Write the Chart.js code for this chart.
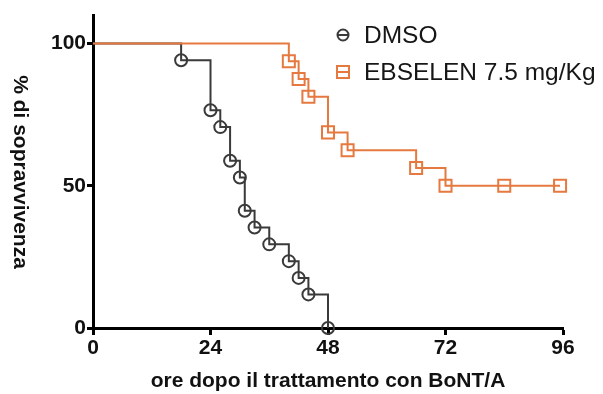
<!DOCTYPE html>
<html><head><meta charset="utf-8">
<script src="https://cdn.jsdelivr.net/npm/chart.js@4"></script>
<style>html,body{margin:0;padding:0;background:#fff;}#wrap{width:603px;height:394px;position:relative;}</style>
</head><body><div id="wrap"><canvas id="c" width="603" height="394"></canvas></div>
<script>
const dmsoHours = [0, 18, 24, 26, 28, 30, 31, 33, 36, 40, 42, 44, 48];
const dmsoSurvival = [100, 94.1, 76.5, 70.6, 58.8, 52.9, 41.2, 35.3, 29.4, 23.5, 17.6, 11.8, 0];
const ebsHours = [0, 40, 42, 44, 48, 52, 66, 72, 84, 95.4];
const ebsSurvival = [100, 93.75, 87.5, 81.25, 68.75, 62.5, 56.25, 50, 50, 50];
const xTicks = [0, 24, 48, 72, 96];
const yTicks = [0, 50, 100];
const seriesLabels = ['DMSO', 'EBSELEN 7.5 mg/Kg'];
const xTitle = 'ore dopo il trattamento con BoNT/A';
const yTitle = '% di sopravvivenza';

const FONT = '"Liberation Sans", Arial, Helvetica, sans-serif';
const DARK = '#3a3a3a';
const ORANGE = '#E5793F';

function pts(xs, ys) { return xs.map((x, i) => ({ x: x, y: ys[i] })); }
function radii(xs, r) { return xs.map((x, i) => i === 0 ? 0 : r); }

const legendPlugin = {
  id: 'customLegend',
  afterDraw(chart) {
    const ctx = chart.ctx;
    const rowsY = [35, 72];
    const iconX = 343;
    chart.data.datasets.forEach((ds, i) => {
      const y = rowsY[i];
      ctx.save();
      ctx.strokeStyle = ds.borderColor;
      ctx.lineWidth = 2;
      ctx.beginPath();
      if (ds.pointStyle === 'circle') {
        ctx.arc(iconX, y, 5.5, 0, Math.PI * 2);
      } else {
        ctx.rect(iconX - 6, y - 6, 12, 12);
      }
      ctx.stroke();
      ctx.beginPath();
      ctx.moveTo(iconX - 6, y);
      ctx.lineTo(iconX + 6, y);
      ctx.stroke();
      ctx.fillStyle = '#161616';
      ctx.font = '24.5px ' + FONT;
      ctx.textAlign = 'left';
      ctx.textBaseline = 'middle';
      ctx.fillText(ds.label, 364, y + 1);
      ctx.restore();
    });
  }
};

const yTitlePlugin = {
  id: 'yTitle',
  afterDraw(chart) {
    const ctx = chart.ctx;
    ctx.save();
    ctx.translate(20, 172);
    ctx.rotate(Math.PI / 2);
    ctx.fillStyle = '#111';
    ctx.font = 'bold 21px ' + FONT;
    ctx.textAlign = 'center';
    ctx.textBaseline = 'middle';
    ctx.fillText(yTitle, 0, 0);
    ctx.restore();
  }
};

new Chart(document.getElementById('c'), {
  type: 'line',
  data: {
    datasets: [
      {
        label: seriesLabels[0],
        data: pts(dmsoHours, dmsoSurvival),
        stepped: 'before',
        borderColor: DARK,
        borderWidth: 2,
        pointStyle: 'circle',
        pointRadius: radii(dmsoHours, 6),
        pointBorderWidth: 2,
        pointBorderColor: DARK,
        pointBackgroundColor: 'rgba(0,0,0,0)',
        fill: false,
        clip: false,
        order: 1
      },
      {
        label: seriesLabels[1],
        data: pts(ebsHours, ebsSurvival),
        stepped: 'before',
        borderColor: ORANGE,
        borderWidth: 2,
        pointStyle: 'rect',
        pointRadius: radii(ebsHours, 8.5),
        pointBorderWidth: 2,
        pointBorderColor: ORANGE,
        pointBackgroundColor: 'rgba(0,0,0,0)',
        fill: false,
        clip: false,
        order: 0
      }
    ]
  },
  options: {
    responsive: false,
    animation: false,
    devicePixelRatio: 1,
    layout: { padding: { top: 15, right: 40, left: 0, bottom: 0 } },
    plugins: { legend: { display: false }, tooltip: { enabled: false } },
    scales: {
      x: {
        type: 'linear',
        min: 0,
        max: 96,
        afterBuildTicks: s => { s.ticks = xTicks.map(v => ({ value: v })); },
        afterFit: s => { s.height = 66; },
        ticks: { color: '#111', font: { family: FONT, size: 21, weight: 'bold' }, padding: 1, maxRotation: 0, autoSkip: false },
        grid: { drawOnChartArea: false, drawTicks: true, tickLength: 7, tickWidth: 3, tickColor: '#000' },
        border: { color: '#000', width: 3 },
        title: { display: true, text: xTitle, color: '#111', font: { family: FONT, size: 21, weight: 'bold', lineHeight: 1 }, padding: { top: 0, bottom: 2 } }
      },
      y: {
        type: 'linear',
        min: 0,
        max: 110,
        afterBuildTicks: s => { s.ticks = yTicks.map(v => ({ value: v })); },
        afterFit: s => { s.width = 93; },
        ticks: { color: '#111', font: { family: FONT, size: 21, weight: 'bold' }, padding: 1 },
        grid: { drawOnChartArea: false, drawTicks: true, tickLength: 6, tickWidth: 3, tickColor: '#000' },
        border: { color: '#000', width: 3 }
      }
    }
  },
  plugins: [legendPlugin, yTitlePlugin]
});
</script>
</body></html>
